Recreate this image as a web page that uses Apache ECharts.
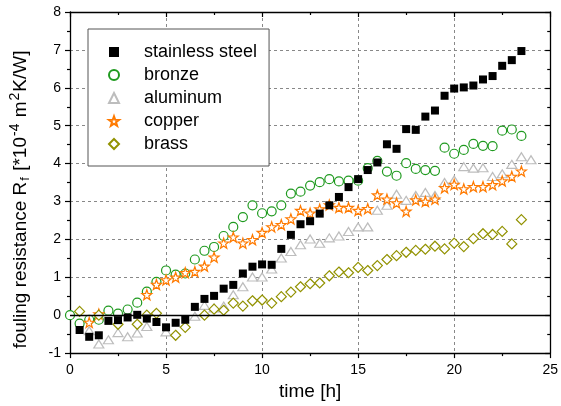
<!DOCTYPE html>
<html>
<head>
<meta charset="utf-8">
<script src="https://cdn.jsdelivr.net/npm/echarts@6/dist/echarts.min.js"></script>
<style>
html,body{margin:0;padding:0;background:#fff;}
#chart{width:561px;height:406px;}
</style>
</head>
<body>
<div id="chart"></div>
<script>
// ---- data (time in h, fouling resistance in 1e-4 m2K/W) ----
var seriesNames = ['stainless steel', 'bronze', 'aluminum', 'copper', 'brass'];

var steelT = [0.5,1,1.5,2,2.5,3,3.5,4,4.5,5,5.5,6,6.5,7,7.5,8,8.5,9,9.5,10,10.5,11,11.5,12,12.5,13,13.5,14,14.5,15,15.5,16,16.5,17,17.5,18,18.5,19,19.5,20,20.5,21,21.5,22,22.5,23,23.5];
var steelR = [-0.39,-0.57,-0.53,-0.15,-0.13,-0.06,0.01,-0.09,-0.18,-0.32,-0.20,-0.12,0.22,0.43,0.51,0.70,0.80,1.10,1.28,1.34,1.33,1.75,2.12,2.40,2.48,2.68,2.90,3.12,3.38,3.59,3.83,4.03,4.51,4.39,4.91,4.89,5.24,5.40,5.79,5.98,6.01,6.06,6.22,6.31,6.58,6.73,6.97];

var bronzeT = [0,0.5,1,1.5,2,2.5,3,3.5,4,4.5,5,5.5,6,6.5,7,7.5,8,8.5,9,9.5,10,10.5,11,11.5,12,12.5,13,13.5,14,14.5,15,15.5,16,16.5,17,17.5,18,18.5,19,19.5,20,20.5,21,21.5,22,22.5,23,23.5];
var bronzeR = [0.0,-0.22,-0.12,-0.12,0.12,0.04,0.15,0.33,0.62,0.88,1.18,1.07,1.10,1.47,1.70,1.80,2.09,2.33,2.59,2.90,2.69,2.74,2.90,3.21,3.26,3.42,3.51,3.59,3.53,3.55,3.55,3.88,4.07,3.79,3.68,4.01,3.86,3.83,3.81,4.42,4.26,4.36,4.52,4.47,4.46,4.87,4.90,4.73];

var aluT = [1,1.5,2,2.5,3,3.5,4,5,6.5,7,7.5,8,8.5,9,9.5,10,10.5,11,11.5,12,12.5,13,13.5,14,14.5,15,15.5,16,16.5,17,17.5,18,18.5,19,19.5,20,20.5,21,21.5,22,22.5,23,23.5,24];
var aluR = [-0.41,-0.76,-0.65,-0.46,-0.57,-0.47,-0.30,-0.44,-0.03,0.26,0.19,0.24,0.54,0.75,1.01,1.01,1.22,1.51,1.68,1.86,2.01,1.90,2.04,2.09,2.21,2.33,2.33,2.77,2.90,3.19,3.03,3.16,3.24,3.16,3.50,3.57,3.92,3.88,3.89,3.66,3.73,3.98,4.18,4.10];

var copperT = [1,1.5,4,4.5,5,5.5,6,6.5,7,7.5,8,8.5,9,9.5,10,10.5,11,11.5,12,12.5,13,13.5,14,14.5,15,15.5,16,16.5,17,17.5,18,18.5,19,19.5,20,20.5,21,21.5,22,22.5,23,23.5];
var copperR = [-0.19,0.03,0.54,0.81,0.93,1.00,1.12,1.15,1.29,1.53,1.90,2.06,1.90,1.99,2.18,2.33,2.39,2.54,2.76,2.69,2.80,2.91,2.84,2.84,2.76,2.81,3.17,3.06,2.96,2.74,3.04,3.00,3.06,3.36,3.45,3.33,3.39,3.39,3.44,3.54,3.66,3.80];

var brassT = [0.5,1.5,2.5,3.5,4,4.5,5.5,6,7,7.5,8,8.5,9,9.5,10,10.5,11,11.5,12,12.5,13,13.5,14,14.5,15,15.5,16,16.5,17,17.5,18,18.5,19,19.5,20,20.5,21,21.5,22,22.5,23,23.5];
var brassR = [0.10,0.00,-0.24,-0.24,0.00,0.05,-0.53,-0.32,0.00,0.16,0.13,0.32,0.24,0.38,0.40,0.32,0.49,0.61,0.75,0.83,0.85,1.04,1.14,1.12,1.26,1.18,1.31,1.47,1.57,1.66,1.71,1.74,1.82,1.75,1.90,1.81,2.02,2.15,2.13,2.21,1.88,2.52];

var xTicks = [0,5,10,15,20,25];
var yTicks = [-1,0,1,2,3,4,5,6,7,8];

function zip(t, r) { return t.map(function (v, i) { return [v, r[i]]; }); }

var STAR = 'path://M0,-10 L2.35,-3.24 L9.51,-3.09 L3.8,1.24 L5.88,8.09 L0,4 L-5.88,8.09 L-3.8,1.24 L-9.51,-3.09 L-2.35,-3.24 Z';
var FONT = 'Liberation Sans, Arial, sans-serif';

var chart = echarts.init(document.getElementById('chart'), null, {renderer: 'canvas'});

function hollow(color) {
  return {color: '#fff', borderColor: color, borderWidth: 1.2, opacity: 1};
}

var baseAxisLine = {show: true, onZero: false, lineStyle: {color: '#000', width: 1.3}};

var option = {
  backgroundColor: '#fff',
  animation: false,
  grid: {left: 70, top: 12, right: 8, bottom: 52, containLabel: false},
  legend: {
    orient: 'vertical',
    left: 88, top: 29,
    itemWidth: 10, itemHeight: 10,
    itemGap: 5,
    padding: [14, 12, 13, 20],
    borderColor: '#555', borderWidth: 1,
    backgroundColor: '#fff',
    textStyle: {fontFamily: FONT, fontSize: 18, color: '#000', lineHeight: 18, padding: [0, 0, 0, 20]},
    data: seriesNames
  },
  xAxis: [{
    type: 'value', min: xTicks[0], max: xTicks[xTicks.length - 1], interval: 5,
    name: 'time [h]', nameLocation: 'middle', nameGap: 28,
    nameTextStyle: {fontFamily: FONT, fontSize: 19, color: '#000'},
    axisLine: baseAxisLine,
    axisTick: {show: true, inside: false, length: 5, lineStyle: {color: '#000', width: 1.2}},
    minorTick: {show: true, splitNumber: 2, length: 3, lineStyle: {color: '#000', width: 1.2}},
    axisLabel: {fontFamily: FONT, fontSize: 14, color: '#000', margin: 10},
    splitLine: {show: true, lineStyle: {color: '#888', type: [3, 3], width: 1}}
  }, {
    type: 'value', position: 'top', min: xTicks[0], max: xTicks[xTicks.length - 1], interval: 5,
    axisLine: baseAxisLine,
    axisTick: {show: true, inside: true, length: 5, lineStyle: {color: '#000', width: 1.2}},
    minorTick: {show: true, splitNumber: 2, length: 3, lineStyle: {color: '#000', width: 1.2}},
    axisLabel: {show: false}, splitLine: {show: false}
  }],
  yAxis: [{
    type: 'value', min: yTicks[0], max: yTicks[yTicks.length - 1], interval: 1,
    name: '{a|fouling resistance R}{sub|f}{a| [*10}{sup|-4}{a| m}{sup|2}{a|K/W]}',
    nameLocation: 'middle', nameRotate: 90, nameGap: 37,
    nameTextStyle: {
      fontFamily: FONT, fontSize: 19, color: '#000', padding: [0, 34, 0, 0],
      rich: {
        a: {fontFamily: FONT, fontSize: 19, color: '#000'},
        sub: {fontFamily: FONT, fontSize: 13, color: '#000', padding: [10, 1, 0, 1]},
        sup: {fontFamily: FONT, fontSize: 14, color: '#000', padding: [0, 1, 11, 1]}
      }
    },
    axisLine: baseAxisLine,
    axisTick: {show: true, inside: false, length: 5, lineStyle: {color: '#000', width: 1.2}},
    minorTick: {show: true, splitNumber: 2, length: 3, lineStyle: {color: '#000', width: 1.2}},
    axisLabel: {fontFamily: FONT, fontSize: 14, color: '#000', margin: 9},
    splitLine: {show: true, lineStyle: {color: '#888', type: [3, 3], width: 1}}
  }, {
    type: 'value', position: 'right', min: yTicks[0], max: yTicks[yTicks.length - 1], interval: 1,
    axisLine: baseAxisLine,
    axisTick: {show: true, inside: true, length: 5, lineStyle: {color: '#000', width: 1.2}},
    minorTick: {show: true, splitNumber: 2, length: 3, lineStyle: {color: '#000', width: 1.2}},
    axisLabel: {show: false}, splitLine: {show: false}
  }],
  series: [{
    name: seriesNames[0], type: 'scatter', symbol: 'rect', symbolSize: 8,
    itemStyle: {color: '#000', opacity: 1}, data: zip(steelT, steelR), z: 5,
    markLine: {
      silent: true, symbol: 'none', label: {show: false}, animation: false,
      lineStyle: {color: '#000', type: 'solid', width: 1.3},
      data: [{yAxis: 0}]
    }
  }, {
    name: seriesNames[1], type: 'scatter', symbol: 'circle', symbolSize: 9,
    itemStyle: hollow('#1f9a1f'), data: zip(bronzeT, bronzeR), z: 4
  }, {
    name: seriesNames[2], type: 'scatter', symbol: 'triangle', symbolSize: [10, 8],
    itemStyle: hollow('#bdbdbd'), data: zip(aluT, aluR), z: 3
  }, {
    name: seriesNames[3], type: 'scatter', symbol: STAR, symbolSize: 10,
    itemStyle: hollow('#ff7a00'), data: zip(copperT, copperR), z: 4
  }, {
    name: seriesNames[4], type: 'scatter', symbol: 'diamond', symbolSize: 10,
    itemStyle: hollow('#929200'), data: zip(brassT, brassR), z: 4
  }]
};
chart.setOption(option);
</script>
</body>
</html>
